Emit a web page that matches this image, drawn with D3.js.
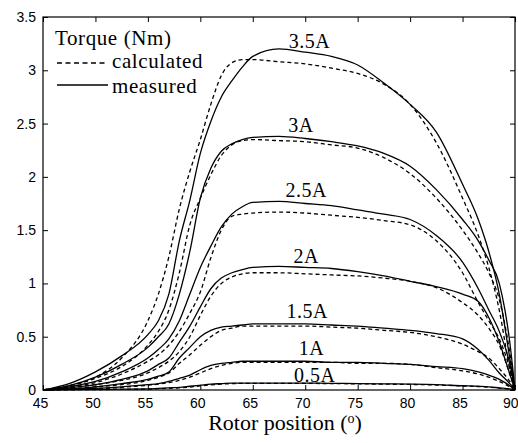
<!DOCTYPE html>
<html>
<head>
<meta charset="utf-8">
<script src="https://cdnjs.cloudflare.com/ajax/libs/d3/7.8.5/d3.min.js"></script>
<style>
body { margin: 0; background: #fff; }
svg { display: block; }
.tick text { font-family: "Liberation Sans", Arial, sans-serif; font-size: 14px; fill: #000; }
.tick line { stroke: #000; }
</style>
</head>
<body>
<div id="chart"></div>
<script>
//Width and height
var w = 518;
var h = 443;
var margin = {top: 17, right: 3, bottom: 53, left: 43};

//Rotor position (deg), shared by every series
var angle = [45, 47.5, 50, 52.5, 55, 56, 57, 58, 59, 60, 61, 62, 63, 64, 65, 67.5, 70, 72.5, 75, 77.5, 80, 82.5, 85, 86.5, 87.5, 88.5, 89.5, 90];

//Torque (Nm), measured
var meas35 = [0, 0.06, 0.17, 0.32, 0.52, 0.65, 0.9, 1.4, 1.78, 2.22, 2.52, 2.75, 2.9, 3.03, 3.13, 3.2, 3.17, 3.13, 3.05, 2.88, 2.68, 2.42, 1.93, 1.6, 1.3, 0.9, 0.3, 0];
var meas30 = [0, 0.04, 0.12, 0.24, 0.4, 0.5, 0.62, 0.9, 1.3, 1.8, 2.08, 2.24, 2.31, 2.35, 2.37, 2.38, 2.36, 2.33, 2.29, 2.22, 2.1, 1.88, 1.6, 1.4, 1.22, 1.0, 0.45, 0];
var meas25 = [0, 0.03, 0.08, 0.17, 0.3, 0.38, 0.48, 0.65, 0.9, 1.15, 1.35, 1.53, 1.65, 1.72, 1.76, 1.77, 1.75, 1.73, 1.69, 1.65, 1.6, 1.45, 1.2, 0.95, 0.75, 0.55, 0.25, 0];
var meas20 = [0, 0.02, 0.05, 0.1, 0.18, 0.24, 0.3, 0.45, 0.6, 0.78, 0.95, 1.05, 1.1, 1.13, 1.15, 1.16, 1.15, 1.14, 1.11, 1.07, 1.02, 0.97, 0.9, 0.83, 0.68, 0.45, 0.15, 0];
var meas15 = [0, 0.01, 0.03, 0.06, 0.1, 0.13, 0.17, 0.3, 0.4, 0.5, 0.56, 0.59, 0.6, 0.61, 0.62, 0.62, 0.62, 0.61, 0.6, 0.58, 0.56, 0.53, 0.48, 0.38, 0.28, 0.16, 0.06, 0];
var meas10 = [0, 0.01, 0.015, 0.03, 0.05, 0.06, 0.08, 0.11, 0.14, 0.19, 0.23, 0.25, 0.26, 0.27, 0.27, 0.27, 0.27, 0.26, 0.26, 0.25, 0.24, 0.22, 0.2, 0.17, 0.14, 0.1, 0.04, 0];
var meas05 = [0, 0.003, 0.005, 0.008, 0.01, 0.015, 0.02, 0.025, 0.035, 0.045, 0.055, 0.06, 0.065, 0.065, 0.065, 0.065, 0.065, 0.063, 0.06, 0.058, 0.055, 0.05, 0.04, 0.035, 0.03, 0.02, 0.01, 0];

//Torque (Nm), calculated
var calc35 = [0, 0.04, 0.12, 0.3, 0.65, 0.9, 1.25, 1.7, 2.05, 2.35, 2.68, 2.95, 3.07, 3.1, 3.1, 3.08, 3.06, 3.02, 2.97, 2.87, 2.68, 2.32, 1.8, 1.45, 1.15, 0.75, 0.2, 0];
var calc30 = [0, 0.04, 0.11, 0.22, 0.42, 0.55, 0.75, 1.1, 1.55, 1.8, 2.02, 2.2, 2.3, 2.34, 2.35, 2.34, 2.33, 2.3, 2.27, 2.18, 2.03, 1.8, 1.5, 1.28, 1.1, 0.85, 0.35, 0];
var calc25 = [0, 0.03, 0.07, 0.15, 0.27, 0.33, 0.42, 0.55, 0.72, 0.92, 1.24, 1.5, 1.63, 1.65, 1.66, 1.67, 1.66, 1.64, 1.62, 1.59, 1.55, 1.4, 1.1, 0.82, 0.65, 0.48, 0.2, 0];
var calc20 = [0, 0.02, 0.05, 0.09, 0.16, 0.21, 0.27, 0.36, 0.5, 0.7, 0.88, 1.0, 1.06, 1.09, 1.1, 1.1, 1.09, 1.08, 1.07, 1.05, 1.02, 0.96, 0.82, 0.7, 0.58, 0.42, 0.15, 0];
var calc15 = [0, 0.01, 0.03, 0.05, 0.09, 0.12, 0.16, 0.25, 0.33, 0.42, 0.5, 0.56, 0.58, 0.6, 0.6, 0.6, 0.6, 0.59, 0.58, 0.56, 0.54, 0.5, 0.43, 0.36, 0.3, 0.2, 0.08, 0];
var calc10 = [0, 0.008, 0.012, 0.025, 0.045, 0.055, 0.07, 0.09, 0.12, 0.16, 0.2, 0.23, 0.25, 0.26, 0.26, 0.26, 0.26, 0.26, 0.25, 0.25, 0.24, 0.21, 0.18, 0.15, 0.12, 0.08, 0.03, 0];
var calc05 = [0, 0.002, 0.004, 0.006, 0.008, 0.012, 0.016, 0.02, 0.028, 0.038, 0.048, 0.055, 0.06, 0.062, 0.062, 0.062, 0.062, 0.06, 0.058, 0.055, 0.052, 0.047, 0.038, 0.032, 0.026, 0.018, 0.008, 0];

//Curve labels
var currents = ["3.5A", "3A", "2.5A", "2A", "1.5A", "1A", "0.5A"];
var labelAngle = [70.4, 69.6, 70.1, 70.1, 70.2, 70.6, 70.9];
var labelTorque = [3.21, 2.42, 1.81, 1.19, 0.68, 0.33, 0.075];

var xTicks = [45, 50, 55, 60, 65, 70, 75, 80, 85, 90];
var yTicks = [0, 0.5, 1, 1.5, 2, 2.5, 3, 3.5];

var measured = [meas35, meas30, meas25, meas20, meas15, meas10, meas05];
var calculated = [calc35, calc30, calc25, calc20, calc15, calc10, calc05];

var svg = d3.select("#chart")
    .append("svg")
    .attr("width", w)
    .attr("height", h);

var x = d3.scaleLinear().domain([45, 90]).range([margin.left, w - margin.right]);
var y = d3.scaleLinear().domain([0, 3.5]).range([h - margin.bottom, margin.top]);

var fmt = d3.format("~g");

//Axes with inward ticks (box style)
svg.append("g")
    .attr("transform", "translate(0," + (h - margin.bottom) + ")")
    .call(d3.axisBottom(x).tickValues(xTicks).tickFormat(fmt).tickSize(-5).tickSizeOuter(0).tickPadding(8))
    .call(function(g) {
        g.select(".domain").remove();
        g.selectAll("text").attr("dx", -3);
        //last label sits on the right edge
        g.selectAll("text").filter(function(d) { return d == 90; })
            .attr("text-anchor", "end").attr("dx", 3);
    });

svg.append("g")
    .attr("transform", "translate(" + margin.left + ",0)")
    .call(d3.axisLeft(y).tickValues(yTicks).tickFormat(fmt).tickSize(-5).tickSizeOuter(0).tickPadding(7))
    .call(function(g) { g.select(".domain").remove(); });

svg.append("g")
    .attr("transform", "translate(0," + margin.top + ")")
    .call(d3.axisTop(x).tickValues(xTicks).tickSize(-5).tickSizeOuter(0).tickFormat(""))
    .call(function(g) { g.select(".domain").remove(); });

svg.append("g")
    .attr("transform", "translate(" + (w - margin.right) + ",0)")
    .call(d3.axisRight(y).tickValues(yTicks).tickSize(-5).tickSizeOuter(0).tickFormat(""))
    .call(function(g) { g.select(".domain").remove(); });

svg.append("rect")
    .attr("x", x(45))
    .attr("y", y(3.5))
    .attr("width", x(90) - x(45))
    .attr("height", y(0) - y(3.5))
    .attr("fill", "none")
    .attr("stroke", "#000")
    .attr("stroke-width", 1.2);

var line = d3.line()
    .x(function(d, i) { return x(angle[i]); })
    .y(function(d) { return y(d); })
    .curve(d3.curveMonotoneX);

svg.selectAll(".calc")
    .data(calculated)
    .enter()
    .append("path")
    .attr("class", "calc")
    .attr("d", line)
    .attr("fill", "none")
    .attr("stroke", "#000")
    .attr("stroke-width", 1.3)
    .attr("stroke-dasharray", "4,3");

svg.selectAll(".meas")
    .data(measured)
    .enter()
    .append("path")
    .attr("class", "meas")
    .attr("d", line)
    .attr("fill", "none")
    .attr("stroke", "#000")
    .attr("stroke-width", 1.3);

//Current labels
svg.selectAll(".lab")
    .data(currents)
    .enter()
    .append("text")
    .attr("class", "lab")
    .attr("x", function(d, i) { return x(labelAngle[i]); })
    .attr("y", function(d, i) { return y(labelTorque[i]); })
    .attr("text-anchor", "middle")
    .style("font-family", "'Liberation Serif', 'Times New Roman', serif")
    .style("font-size", "20px")
    .style("letter-spacing", "0.5px")
    .text(function(d) { return d; });

//Legend
var serif = "'Liberation Serif', 'Times New Roman', serif";
svg.append("text")
    .attr("x", 55).attr("y", 45)
    .style("font-family", serif).style("font-size", "21px").style("letter-spacing", "0.6px")
    .text("Torque (Nm)");

svg.append("line")
    .attr("x1", 57).attr("x2", 108).attr("y1", 63).attr("y2", 63)
    .attr("stroke", "#000").attr("stroke-width", 1.3).attr("stroke-dasharray", "5,3.5");
svg.append("text")
    .attr("x", 112).attr("y", 68)
    .style("font-family", serif).style("font-size", "21px").style("letter-spacing", "0.6px")
    .text("calculated");

svg.append("line")
    .attr("x1", 57).attr("x2", 108).attr("y1", 85).attr("y2", 85)
    .attr("stroke", "#000").attr("stroke-width", 1.3);
svg.append("text")
    .attr("x", 112).attr("y", 93)
    .style("font-family", serif).style("font-size", "21px").style("letter-spacing", "0.6px")
    .text("measured");

//X axis title
var title = svg.append("text")
    .attr("x", 285).attr("y", 430)
    .attr("text-anchor", "middle")
    .style("font-family", serif).style("font-size", "22px");
title.append("tspan").text("Rotor position (");
title.append("tspan").attr("dy", -7).style("font-size", "14px").text("o");
title.append("tspan").attr("dy", 7).text(")");
</script>
</body>
</html>
